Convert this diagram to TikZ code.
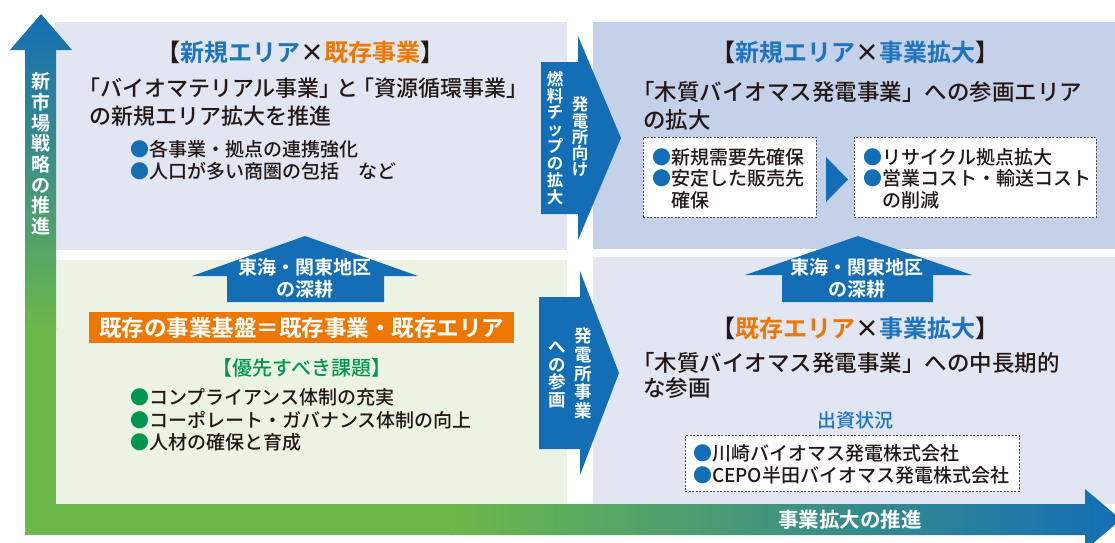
\documentclass[tikz,border=0pt]{standalone}
\usepackage{fontspec}
\setmainfont{Noto Sans CJK JP}[UprightFont={* Medium}, BoldFont={* Bold}]
\definecolor{ablue}{RGB}{19,110,182}
\definecolor{hblue}{RGB}{30,117,190}
\definecolor{orng}{RGB}{237,120,0}
\definecolor{grn}{RGB}{0,150,80}
\definecolor{lgreen}{RGB}{108,184,74}
\definecolor{pTL}{RGB}{225,230,242}
\definecolor{pTR}{RGB}{197,209,233}
\definecolor{pBL}{RGB}{236,243,228}
\definecolor{ink}{RGB}{35,24,21}
\newcommand\blueball{{\color{ablue}●}}
\newcommand\greenball{{\color{grn}●}}
\begin{document}
\begin{tikzpicture}[x=1pt,y=-1pt,
  lbl/.style={inner sep=0pt, outer sep=0pt, text=ink},
  headtxt/.style={lbl, font=\fontsize{24}{28}\selectfont\bfseries},
  maintxt/.style={lbl, anchor=west, font=\fontsize{22}{28}\selectfont},
  maintxtR/.style={lbl, anchor=west, font=\fontsize{22.5}{28}\selectfont},
  bultxt/.style={lbl, anchor=west, align=left, font=\fontsize{19}{22}\selectfont},
  wtxt/.style={inner sep=0pt, text=white, align=center},
  vtxt/.style={inner sep=0pt, text=white, align=center},
  dbox/.style={draw=black!70, dash pattern=on 2pt off 1.5pt, fill=white, line width=0.6pt, inner sep=0pt, anchor=north west},
  arrowfill/.style={fill=ablue, draw=none}
]
\clip (0,0) rectangle (1115,542);
\fill[white] (0,0) rectangle (1115,542);

% panels
\fill[pTL] (55,22) rectangle (567,250);
\fill[pBL] (55,260) rectangle (567,504);
\fill[pTR] (593,22) rectangle (1115,249);
\fill[pTL] (593,257) rectangle (1115,504);

% L-shaped axes
\shade[top color=ablue, bottom color=lgreen] (41,14) -- (72,50) -- (56,50) -- (56,330) -- (25,330) -- (25,50) -- (10,50) -- cycle;
\fill[lgreen] (25,329) rectangle (56,535);
\fill[lgreen] (25,504) rectangle (451,535);
\shade[left color=lgreen, right color=ablue] (450,504) -- (1085,504) -- (1085,489) -- (1121,519.5) -- (1085,550) -- (1085,535) -- (450,535) -- cycle;
\node[vtxt, font=\fontsize{19}{20.7}\selectfont\bfseries] (vaxis) at (41,154) {新\\市\\場\\戦\\略\\の\\推\\進};
\node[wtxt, font=\fontsize{20.5}{24}\selectfont\bfseries] (haxis) at (850,520) {事業拡大の推進};

% right-pointing arrows between columns
\fill[arrowfill] (541,62) -- (578,62) -- (578,36) -- (621,138) -- (578,240) -- (578,214) -- (541,214) -- cycle;
\node[vtxt, font=\fontsize{16.5}{16.9}\selectfont\bfseries] (fuelA) at (555,138) {燃\\料\\チ\\ッ\\プ\\の\\拡\\大};
\node[vtxt, font=\fontsize{16.5}{16.2}\selectfont\bfseries] (fuelB) at (580,137) {発\\電\\所\\向\\け};
\fill[arrowfill] (539,297) -- (580,297) -- (580,271) -- (619,373) -- (580,475) -- (580,449) -- (539,449) -- cycle;
\node[vtxt, font=\fontsize{17.5}{17.5}\selectfont\bfseries] (joinA) at (557,375) {へ\\の\\参\\画};
\node[vtxt, font=\fontsize{17.5}{18.6}\selectfont\bfseries] (joinB) at (583,373.5) {発\\電\\所\\事\\業};

% up arrows
\fill[arrowfill] (227,302) -- (227,276) -- (192,276) -- (305,236) -- (418,276) -- (384,276) -- (384,302) -- cycle;
\node[wtxt, font=\fontsize{19}{22}\selectfont\bfseries] (upL) at (305,278) {東海・関東地区\\の深耕};
\fill[arrowfill] (782,302) -- (782,275) -- (745,275) -- (858,236) -- (972,275) -- (933,275) -- (933,302) -- cycle;
\node[wtxt, font=\fontsize{19}{22}\selectfont\bfseries] (upR) at (857,278) {東海・関東地区\\の深耕};

% top-left quadrant
\node[headtxt] (hTL) at (300,52) {【{\color{hblue}新規エリア}×{\color{orng}既存事業}】};
\node[maintxt] (mTL1) at (78,88) {「バイオマテリアル事業」\kern-0.25em と\kern-0.25em「資源循環事業」};
\node[maintxt] (mTL2) at (89,116) {の新規エリア拡大を推進};
\node[bultxt] (bTL) at (130,160) {\blueball 各事業・拠点の連携強化\\\blueball 人口が多い商圏の包括　など};

% bottom-left quadrant
\node[fill=orng, inner sep=0pt, minimum width=425pt, minimum height=31pt, text=white, font=\fontsize{22.5}{26}\selectfont\bfseries] (base) at (301.5,327.5) {既存の事業基盤＝既存事業・既存エリア};
\node[lbl, text=grn, font=\fontsize{20}{24}\selectfont] (prio) at (302,368) {【優先すべき課題】};
\node[bultxt, font=\fontsize{19}{22.5}\selectfont] (bBL) at (130,420) {\greenball コンプライアンス体制の充実\\\greenball コーポレート・ガバナンス体制の向上\\\greenball 人材の確保と育成};

% top-right quadrant
\node[headtxt] (hTR) at (855,52) {【{\color{hblue}新規エリア}×{\color{hblue}事業拡大}】};
\node[maintxtR] (mTR1) at (632,92) {「木質バイオマス発電事業」への参画エリア};
\node[maintxtR] (mTR2) at (643,120) {の拡大};
\node[dbox, minimum width=173pt, minimum height=80pt] (box1) at (643,137) {};
\node[dbox, minimum width=242pt, minimum height=80pt] (box2) at (854,137) {};
\fill[arrowfill] (826,157) -- (848,179.5) -- (826,202) -- cycle;
\node[bultxt, font=\fontsize{19}{21.6}\selectfont] (b1) at (652,178.5) {\blueball 新規需要先確保\\\blueball 安定した販売先\\\hphantom{●}確保};
\node[bultxt, font=\fontsize{19}{21.6}\selectfont] (b2) at (863,178.5) {\blueball リサイクル拠点拡大\\\blueball 営業コスト・輸送コスト\\\hphantom{●}の削減};

% bottom-right quadrant
\node[headtxt] (hBR) at (855,328) {【{\color{orng}既存エリア}×{\color{hblue}事業拡大}】};
\node[maintxtR] (mBR1) at (632,363) {「木質バイオマス発電事業」への中長期的};
\node[maintxtR] (mBR2) at (643,388) {な参画};
\node[lbl, text=hblue, font=\fontsize{19}{22}\selectfont] (inv) at (855,420) {出資状況};
\node[dbox, minimum width=334pt, minimum height=56pt] (box3) at (685,435) {};
\node[bultxt, font=\fontsize{19}{22}\selectfont] (b3) at (693,464) {\blueball 川崎バイオマス発電株式会社\\\blueball CEPO半田バイオマス発電株式会社};
\end{tikzpicture}
\end{document}
